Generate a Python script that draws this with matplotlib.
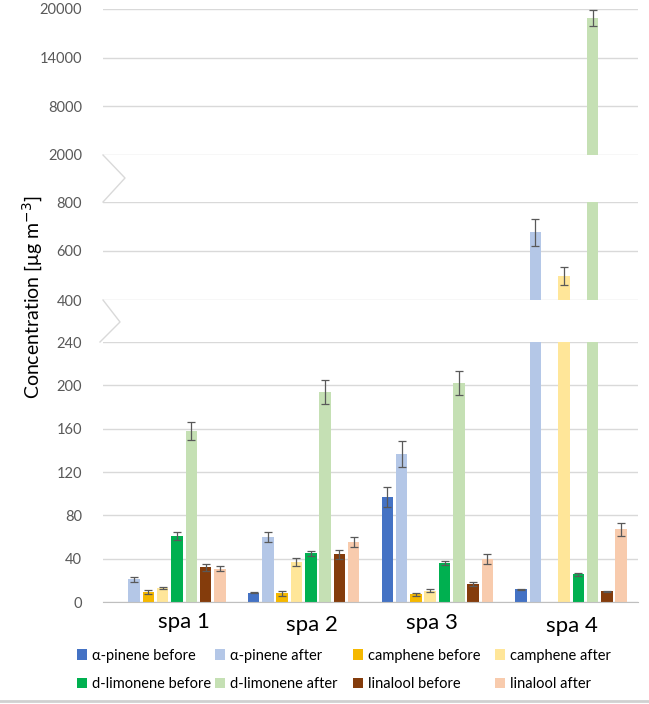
import numpy as np
import matplotlib
matplotlib.use('Agg')
import matplotlib.pyplot as plt
import matplotlib.transforms as mtransforms
from matplotlib.patches import Patch
from matplotlib.lines import Line2D

plt.rcParams['font.family'] = ['Lato', 'DejaVu Sans']

sites = ['spa 1', 'spa 2', 'spa 3', 'spa 4']
compounds = ['α-pinene before', 'α-pinene after', 'camphene before', 'camphene after',
             'd-limonene before', 'd-limonene after', 'linalool before', 'linalool after']
colors = ['#4472C4', '#B4C7E7', '#F5B800', '#FFE699',
          '#00B050', '#C5E0B4', '#843C0C', '#F8CBAD']

# concentrations per site (spa 1..4), nan = not shown
a_pinene_before = [np.nan, 8.6, 97, 11.7]
a_pinene_after = [21, 60, 137, 677]
camphene_before = [9.2, 8, 7, np.nan]
camphene_after = [13, 37, 10.4, 498]
limonene_before = [61, 45, 36, 25.6]
limonene_after = [158, 194, 202, 18900]
linalool_before = [32, 44, 16.6, 10]
linalool_after = [30.8, 55.4, 39.7, 67]

a_pinene_before_err = [np.nan, 0.6, 9, 0.6]
a_pinene_after_err = [2.5, 5, 12, 55]
camphene_before_err = [1.5, 2, 1, np.nan]
camphene_after_err = [1, 4, 1.5, 37]
limonene_before_err = [4, 2.5, 1.5, 1.5]
limonene_after_err = [8, 11, 11, 1000]
linalool_before_err = [3, 4, 2, 0.6]
linalool_after_err = [2.5, 5, 5, 6]

values = [a_pinene_before, a_pinene_after, camphene_before, camphene_after,
          limonene_before, limonene_after, linalool_before, linalool_after]
errors = [a_pinene_before_err, a_pinene_after_err, camphene_before_err, camphene_after_err,
          limonene_before_err, limonene_after_err, linalool_before_err, linalool_after_err]

W, H = 649, 704
fig = plt.figure(figsize=(W / 100, H / 100), dpi=100)


def rect(left, top, right, bottom):
    return [left / W, 1 - bottom / H, (right - left) / W, (bottom - top) / H]


ax_top = fig.add_axes(rect(103, 9, 638, 155))
ax_mid = fig.add_axes(rect(103, 202, 638, 300))
ax_bot = fig.add_axes(rect(103, 342, 638, 602))

segments = [
    (ax_top, (2000, 20000), [2000, 8000, 14000, 20000]),
    (ax_mid, (400, 800), [400, 600, 800]),
    (ax_bot, (0, 240), [0, 40, 80, 120, 160, 200, 240]),
]

x = np.arange(len(sites))
step = 0.107
width = 0.086
grid_col = '#D9D9D9'

for ax, lim, ticks in segments:
    for k in range(len(compounds)):
        xs = x + (k - 3.5) * step
        ax.bar(xs, values[k], width, color=colors[k], zorder=2)
        ax.errorbar(xs, values[k], yerr=errors[k], fmt='none', ecolor='#595959',
                    elinewidth=0.9, capsize=3, capthick=0.9, zorder=3)
    ax.set_xlim(-0.5, 3.5)
    ax.set_ylim(*lim)
    ax.set_yticks(ticks)
    ax.set_yticklabels([str(t) for t in ticks])
    ax.set_xticks([])
    ax.grid(axis='y', color=grid_col, linewidth=1.0)
    ax.set_axisbelow(True)
    for s in ax.spines.values():
        s.set_visible(False)
    ax.tick_params(axis='y', length=0, pad=15, labelsize=10.5, labelcolor='#595959')

ax_bot.spines['bottom'].set_visible(True)
ax_bot.spines['bottom'].set_color('#BFBFBF')


# zigzag break markers
def px_line(xs, ys):
    fig.add_artist(Line2D([v / W for v in xs], [1 - v / H for v in ys],
                          color=grid_col, linewidth=1.0, transform=fig.transFigure))


px_line([103, 125, 103], [155, 178, 202])
px_line([103, 120, 100], [300, 322, 342])

fig.text(33 / W, 1 - 297 / H, 'Concentration [μg m$^{-3}$]', rotation=90,
         ha='center', va='center', fontsize=14, color='#000000')

# category labels (slightly staggered as in original)
trans = mtransforms.blended_transform_factory(ax_bot.transData, fig.transFigure)
label_dx = [0.105, 0.06, -0.037, 0.007]
label_y = [622, 625, 623, 626]
for i, name in enumerate(sites):
    ax_bot.text(x[i] + label_dx[i], 1 - label_y[i] / H, name, transform=trans,
                ha='center', va='center', fontsize=16, color='#000000')

# legend: 4 fixed-width columns, 2 rows
col_x = [77, 215, 353, 495]
for c in range(4):
    ks = [c, c + 4]
    handles = [Patch(facecolor=colors[k], edgecolor='none') for k in ks]
    labels = [compounds[k] for k in ks]
    fig.legend(handles, labels, loc='center left',
               bbox_to_anchor=(col_x[c] / W, 1 - 670 / H), frameon=False, fontsize=10.5,
               handlelength=0.7, handleheight=0.7, handletextpad=0.3,
               labelspacing=1.0, borderpad=0, borderaxespad=0)

fig.add_artist(Line2D([0, 1], [1 - 701 / H, 1 - 701 / H], color='#D0D0D0',
                      linewidth=2, transform=fig.transFigure))

fig.savefig('out.png', dpi=100)
